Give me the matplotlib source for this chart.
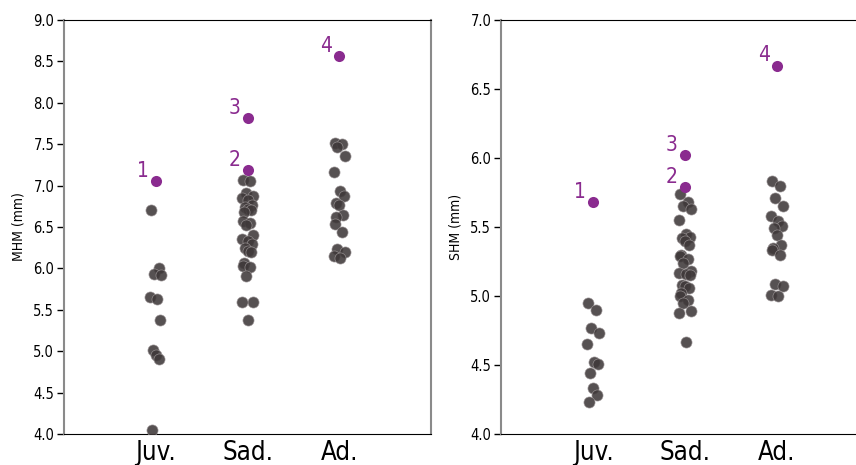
import matplotlib.pyplot as plt
from matplotlib import font_manager

# age classes
groups = ['Juv.', 'Sad.', 'Ad.']

# MHM (mm), per class
mhm_juv = [6.70, 6.00, 5.93, 5.92, 5.65, 5.63, 5.38, 5.02, 4.96, 4.90, 4.05]
mhm_sad = [7.07, 7.06, 6.91, 6.88, 6.85, 6.83, 6.76, 6.74, 6.72, 6.70, 6.68,
           6.57, 6.55, 6.52, 6.40, 6.36, 6.33, 6.30, 6.25, 6.21, 6.20, 6.06,
           6.03, 6.02, 5.91, 5.60, 5.59, 5.38]
mhm_ad = [7.52, 7.50, 7.47, 7.36, 7.16, 6.94, 6.87, 6.79, 6.77, 6.65, 6.62,
          6.54, 6.44, 6.24, 6.20, 6.15, 6.12]

# SHM (mm), per class
shm_juv = [4.95, 4.90, 4.77, 4.73, 4.65, 4.52, 4.51, 4.44, 4.33, 4.28, 4.23]
shm_sad = [5.74, 5.68, 5.65, 5.63, 5.55, 5.45, 5.43, 5.42, 5.40, 5.37, 5.30,
           5.29, 5.27, 5.24, 5.18, 5.17, 5.16, 5.15, 5.08, 5.07, 5.06, 5.02,
           5.00, 4.97, 4.95, 4.89, 4.88, 4.67]
shm_ad = [5.83, 5.80, 5.71, 5.65, 5.58, 5.54, 5.51, 5.49, 5.44, 5.37, 5.35,
          5.33, 5.30, 5.09, 5.07, 5.01, 5.00]

# highlighted specimens: label, class index, MHM, SHM
spec_labels = ['1', '2', '3', '4']
spec_group = [0, 1, 1, 2]
spec_mhm = [7.05, 7.19, 7.82, 8.56]
spec_shm = [5.68, 5.79, 6.02, 6.67]


def narrow_font():
    # look for any condensed / narrow face on the system
    files = [f.fname for f in font_manager.fontManager.ttflist]
    for key in ['LiberationSansNarrow-Regular', 'SansNarrow-Regular',
                'DejaVuSansCondensed.ttf', 'Condensed-Regular',
                'Narrow', 'Condensed']:
        for fn in files:
            base = fn.split('/')[-1]
            if key in base and 'Bold' not in base and 'Italic' not in base \
                    and 'Oblique' not in base:
                return fn
    return None


NF = narrow_font()


def fp(size):
    if NF:
        return font_manager.FontProperties(fname=NF, size=size)
    return font_manager.FontProperties(family='DejaVu Sans', stretch='condensed', size=size)


DARK = '#3f393a'
PURPLE = '#8a2b8f'
jit = [-0.05, 0.03, -0.02, 0.06, -0.06, 0.01, 0.05, -0.03, 0.0, 0.04, -0.04]

fig = plt.figure(figsize=(8.56, 4.65), dpi=100)
W, H = 856, 465
ax1 = fig.add_axes([64 / W, 1 - 434 / H, 367 / W, 414 / H])
ax2 = fig.add_axes([501 / W, 1 - 434 / H, 368 / W, 414 / H])


def panel(ax, data, spec, ylim, ylabel, right_spine):
    for gi, vals in enumerate(data):
        xs = [gi + jit[i % len(jit)] for i in range(len(vals))]
        ax.scatter(xs, vals, s=64, color=DARK, alpha=0.88,
                   edgecolors='#9a9495', linewidths=0.5, zorder=3)
    for lab, gi, v in zip(spec_labels, spec_group, spec):
        ax.scatter([gi], [v], s=64, color=PURPLE, zorder=4, linewidths=0)
        ax.annotate(lab, (gi, v), xytext=(-9.5, 3), textcoords='offset points',
                    ha='center', va='baseline', color=PURPLE,
                    fontproperties=fp(15))
    ax.set_xlim(-1, 3)
    ax.set_ylim(*ylim)
    ax.set_xticks(range(len(groups)))
    ax.set_xticklabels(groups, fontproperties=fp(18.5))
    ax.tick_params(axis='x', length=0, pad=4)
    yt = [ylim[0] + 0.5 * k for k in range(int((ylim[1] - ylim[0]) / 0.5) + 1)]
    ax.set_yticks(yt)
    ax.set_yticklabels([f'{t:.1f}' for t in yt], fontproperties=fp(10.5))
    ax.tick_params(axis='y', length=5, width=1, color='black', pad=2)
    ax.set_ylabel(ylabel, fontproperties=fp(10), labelpad=6)
    ax.spines['left'].set_color('#8a8a8a')
    ax.spines['left'].set_linewidth(1.5)
    ax.spines['top'].set_color('black')
    ax.spines['bottom'].set_color('black')
    if right_spine:
        ax.spines['right'].set_color('#8a8a8a')
        ax.spines['right'].set_linewidth(1.5)
    else:
        ax.spines['right'].set_visible(False)


panel(ax1, [mhm_juv, mhm_sad, mhm_ad], spec_mhm, (4.0, 9.0), 'MHM (mm)', True)
panel(ax2, [shm_juv, shm_sad, shm_ad], spec_shm, (4.0, 7.0), 'SHM (mm)', False)

fig.savefig('out.png', dpi=100)
